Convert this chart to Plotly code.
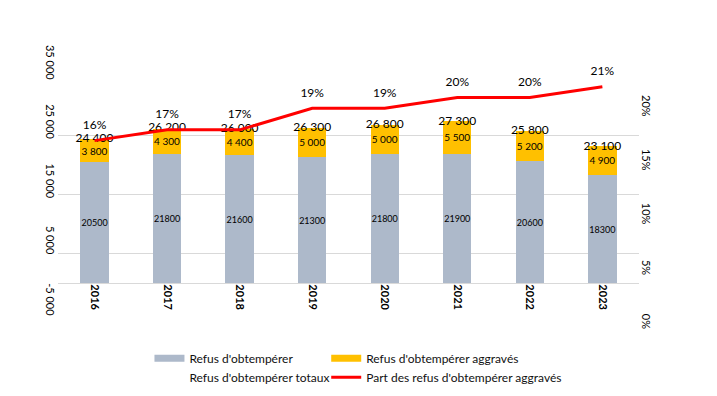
import plotly.graph_objects as go
from plotly.subplots import make_subplots

years = ["2016", "2017", "2018", "2019", "2020", "2021", "2022", "2023"]
refus = [20500, 21800, 21600, 21300, 21800, 21900, 20600, 18300]
aggraves = [3800, 4300, 4400, 5000, 5000, 5500, 5200, 4900]
totaux = [24400, 26200, 26000, 26300, 26800, 27300, 25800, 23100]
part_pct = [16, 17, 17, 19, 19, 20, 20, 21]
left_ticks = [-5000, 5000, 15000, 25000, 35000]
right_ticks = [0, 0.05, 0.10, 0.15, 0.20]

NAME_REFUS = "Refus d'obtempérer"
NAME_AGG = "Refus d'obtempérer aggravés"
NAME_TOT = "Refus d'obtempérer totaux"
NAME_PART = "Part des refus d'obtempérer aggravés"

GRAY = "#ADB9CA"
GOLD = "#FFC000"
RED = "#FF0000"
GRID = "#D9D9D9"
FONT = "Lato"


def sp(v):
    return f"{v:,}".replace(",", " ")


fig = make_subplots(specs=[[{"secondary_y": True}]])

fig.add_trace(go.Bar(
    x=years, y=refus, name=NAME_REFUS, marker=dict(color=GRAY, line=dict(width=0)),
    text=[str(v) for v in refus], textposition="inside", insidetextanchor="middle",
    textangle=0, constraintext="none",
    textfont=dict(family=FONT, size=9, color="#000"),
    showlegend=False, hoverinfo="skip"), secondary_y=False)

fig.add_trace(go.Bar(
    x=years, y=aggraves, name=NAME_AGG, marker=dict(color=GOLD, line=dict(width=0)),
    text=[sp(v) for v in aggraves], textposition="inside", insidetextanchor="middle",
    textangle=0, constraintext="none",
    textfont=dict(family=FONT, size=10, color="#000"),
    showlegend=False, hoverinfo="skip"), secondary_y=False)

fig.add_trace(go.Scatter(
    x=years, y=totaux, name=NAME_TOT, mode="text",
    text=[sp(v) for v in totaux], textposition="middle center",
    textfont=dict(family=FONT, size=12, color="#000"), cliponaxis=False,
    showlegend=False, hoverinfo="skip"), secondary_y=False)

fig.add_trace(go.Scatter(
    x=years, y=[p / 100 for p in part_pct], name=NAME_PART, mode="lines+markers+text",
    text=[f"{p}%" for p in part_pct], textposition="top center",
    textfont=dict(family=FONT, size=12, color="#000"), cliponaxis=False,
    line=dict(color=RED, width=3),
    marker=dict(size=12, color="rgba(0,0,0,0)"),
    showlegend=False, hoverinfo="skip"), secondary_y=True)

# legend entries
fig.add_trace(go.Scatter(x=[None], y=[None], mode="lines", name=NAME_REFUS,
                         line=dict(color=GRAY, width=7), legend="legend"))
fig.add_trace(go.Scatter(x=[None], y=[None], mode="lines", name=NAME_TOT,
                         line=dict(color="rgba(0,0,0,0)", width=0), legend="legend"))
fig.add_trace(go.Scatter(x=[None], y=[None], mode="lines", name=NAME_AGG,
                         line=dict(color=GOLD, width=7), legend="legend2"))
fig.add_trace(go.Scatter(x=[None], y=[None], mode="lines", name=NAME_PART,
                         line=dict(color=RED, width=3), legend="legend2"))

leg_common = dict(orientation="v", xanchor="left", yanchor="top", traceorder="normal",
                  font=dict(family=FONT, size=12, color="#111"),
                  bgcolor="rgba(0,0,0,0)", tracegroupgap=0, itemwidth=30)

fig.update_layout(
    template="none",
    width=717, height=396,
    margin=dict(l=50, r=49, t=68, b=84, pad=0),
    paper_bgcolor="white", plot_bgcolor="white",
    font=dict(family=FONT, size=11, color="#000"),
    barmode="stack", bargap=0.61,
    legend=dict(x=0.148, y=-0.13, **leg_common),
    legend2=dict(x=0.434, y=-0.13, **leg_common),
    showlegend=True,
)

fig.update_xaxes(
    type="category", tickangle=90, showgrid=False, showline=False, zeroline=False,
    ticks="", anchor="free", position=0.125, automargin=False,
    tickfont=dict(family=FONT, size=11, color="#000", weight="bold"),
)

fig.update_yaxes(
    range=[-5000, 35000], tickmode="array", tickvals=left_ticks,
    ticktext=[sp(v) for v in left_ticks], tickangle=90, ticklabelshift=-12,
    showgrid=True, gridcolor=GRID, gridwidth=1,
    zeroline=True, zerolinecolor=GRID, zerolinewidth=1,
    showline=False, ticks="", automargin=False,
    tickfont=dict(family=FONT, size=11, color="#000"),
    secondary_y=False,
)

fig.update_yaxes(
    range=[0, 0.22], tickmode="array", tickvals=right_ticks, tickformat=".0%",
    tickangle=90, ticklabelshift=10,
    showgrid=False, zeroline=False, showline=False, ticks="", automargin=False,
    tickfont=dict(family=FONT, size=11, color="#000"),
    secondary_y=True,
)

fig.write_html("out.html")
